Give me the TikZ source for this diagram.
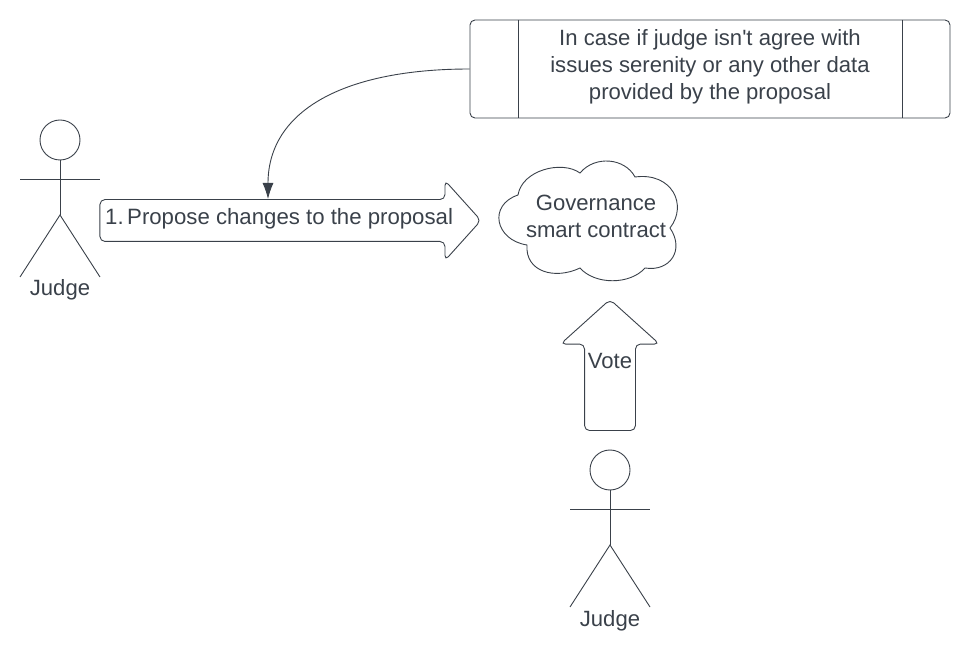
\documentclass[tikz,border=0pt]{standalone}
\usepackage{fontspec}
\newfontfamily\lblfont{Liberation Sans}
\usetikzlibrary{arrows.meta,shapes.arrows}
\definecolor{inkgray}{HTML}{3A414A}
\tikzset{
  lbl/.style={text=inkgray, font=\lblfont\fontsize{22.1}{27}\selectfont, align=center, inner sep=0pt},
  outline/.style={draw=inkgray, line width=0.9pt},
  fatarrow/.style={outline, single arrow, rounded corners=5pt, inner sep=0pt, single arrow tip angle=96},
}
\begin{document}
\begin{tikzpicture}[x=1pt, y=-1pt]
\useasboundingbox (0,0) rectangle (970,652);
% note on top
\node[outline, rounded corners=5pt, minimum width=480pt, minimum height=98pt, inner sep=0pt] (note) at (710,69) {};
\draw[outline] (518,20) -- (518,118);
\draw[outline] (902,20) -- (902,118);
\node[lbl] (notetext) at (710,67) {In case if judge isn't agree with\\issues serenity or any other data\\provided by the proposal};
% propose arrow
\node[fatarrow, minimum height=381pt, minimum width=79pt, single arrow head extend=19pt, text height=41pt] (propose) at (281,220.5) {};
\node[lbl, anchor=base west, font=\lblfont\fontsize{22.2}{27}\selectfont] (proposetext) at (105,225) {1.\hspace{3.5pt}Propose changes to the proposal};
\coordinate (proposetop) at (268,199);
\draw[outline, -{Latex[length=16pt,width=11pt]}] (note.west) .. controls (345,69) and (268,110) .. (proposetop);
% cloud
\draw[outline] (527,245) .. controls (495,240) and (488,205) .. (518,195)
  .. controls (522,170) and (562,160) .. (580,173)
  .. controls (595,155) and (625,158) .. (635,177)
  .. controls (672,172) and (688,205) .. (670,228)
  .. controls (685,250) and (670,272) .. (645,268)
  .. controls (630,285) and (595,285) .. (580,268)
  .. controls (555,280) and (525,272) .. (527,245) -- cycle;
\node[lbl] (govtext) at (596,216) {Governance\\smart contract};
% vote arrow
\node[fatarrow, shape border rotate=90, minimum height=131pt, minimum width=98pt, single arrow head extend=24pt, text width=50pt] (vote) at (610,376.5) {};
\node[lbl] (votetext) at (610,361) {Vote};
% the two judges
\foreach \name/\x/\y in {left/60/140, bottom/610/470} {
  \node[outline, circle, minimum size=40pt, inner sep=0pt] (head\name) at (\x,\y) {};
  \coordinate (hip\name) at (\x,\y+75);
  \draw[outline] (head\name.south) -- (hip\name);
  \draw[outline] (\x-40,\y+39) -- (\x+40,\y+39);
  \draw[outline] (\x-40,\y+137) -- (hip\name) -- (\x+40,\y+137);
  \node[lbl, anchor=base] (name\name) at (\x,\y+156) {Judge};
}
\end{tikzpicture}
\end{document}
